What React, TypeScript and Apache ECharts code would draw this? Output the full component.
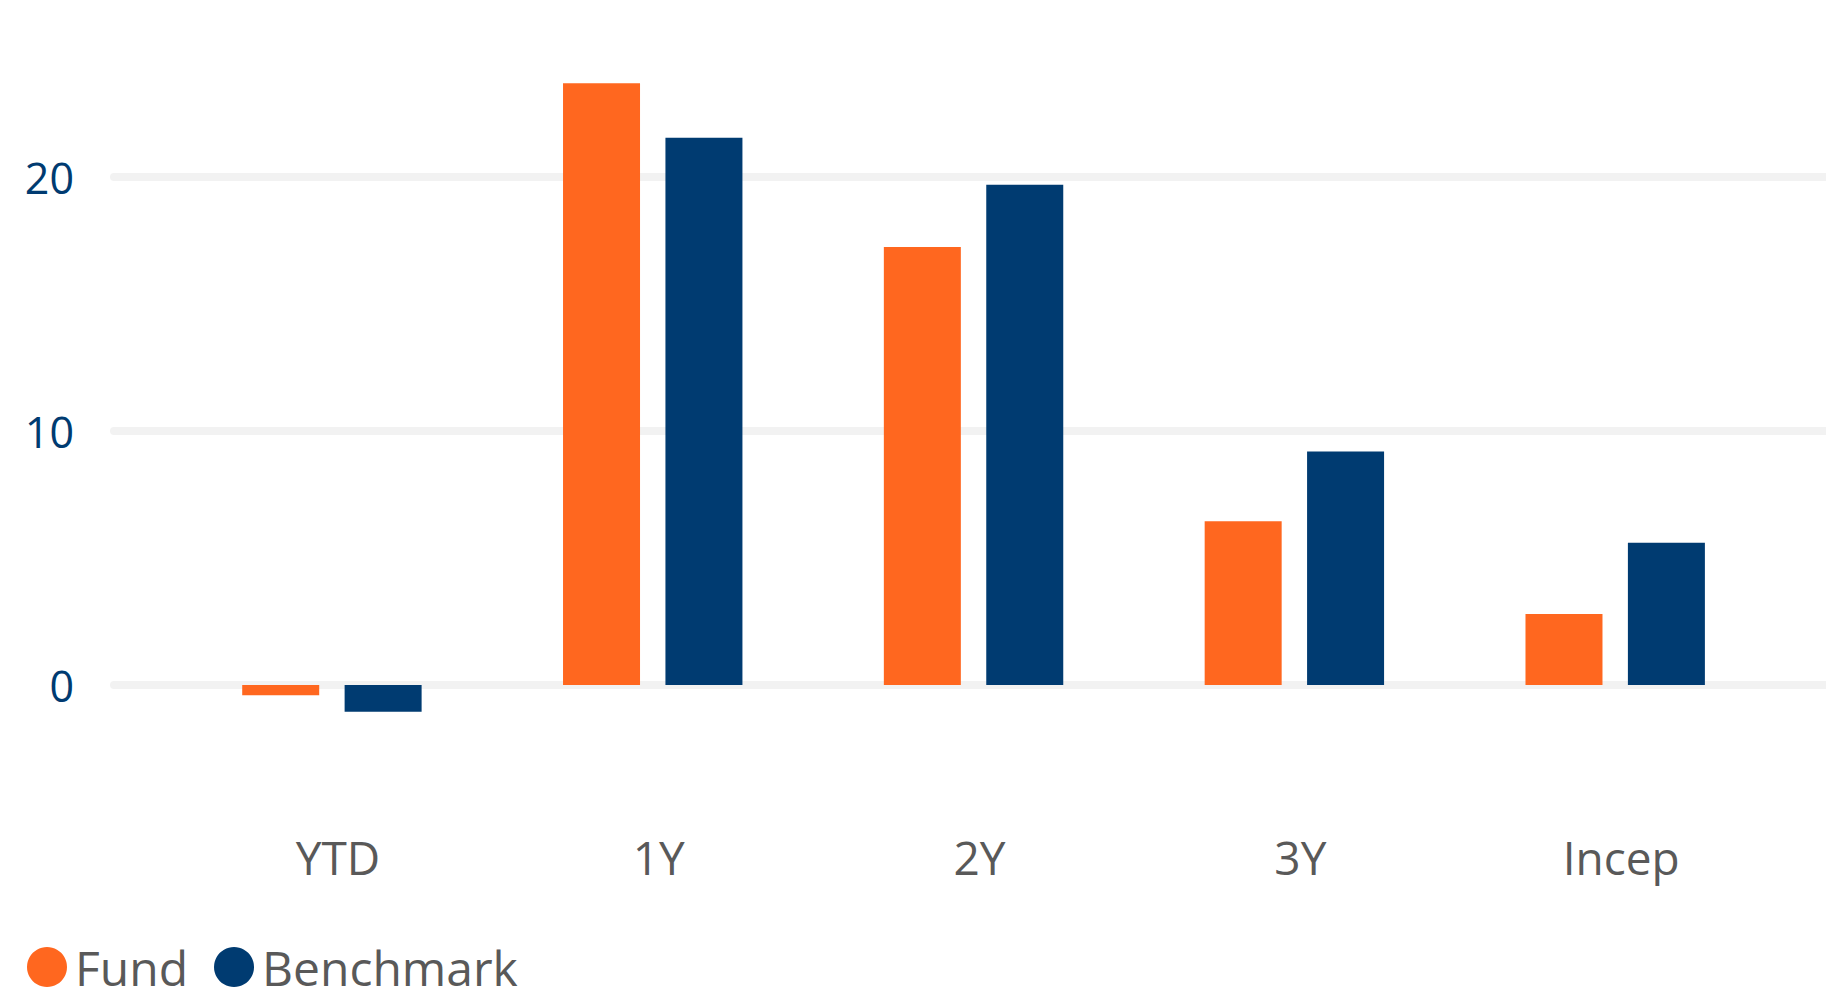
import React, { useEffect, useRef } from "react";
import * as echarts from "echarts";

const categories = ["YTD", "1Y", "2Y", "3Y", "Incep"];
const fundValues = [-0.4, 23.7, 17.25, 6.45, 2.8];
const benchmarkValues = [-1.05, 21.55, 19.7, 9.2, 5.6];
const yTicks = [0, 10, 20];

const ORANGE = "#FF671F";
const NAVY = "#003B71";
const FONT = "'Segoe UI', 'Open Sans', 'Noto Sans', sans-serif";

export default function App() {
  const ref = useRef<HTMLDivElement>(null);
  useEffect(() => {
    if (!ref.current) return;
    const chart = echarts.init(ref.current, null, { renderer: "svg" });
    // pixel mapping: value 0 at y=685, 10 units = 253.9 px
    const pxPer = 25.39;
    const zeroY = 685;
    const maxV = 25;
    const minV = -2;
    chart.setOption({
      animation: false,
      backgroundColor: "#ffffff",
      legend: {
        left: 22,
        top: 938,
        icon: "circle",
        itemWidth: 40,
        itemHeight: 40,
        itemGap: 26,
        textStyle: {
          fontSize: 48,
          lineHeight: 48,
          color: "#595959",
          fontFamily: FONT,
          padding: [0, 0, 0, 3],
        },
        data: ["Fund", "Benchmark"],
      },
      grid: [
        {
          left: 114,
          right: 0,
          top: zeroY - yTicks[yTicks.length - 1] * pxPer,
          height: yTicks[yTicks.length - 1] * pxPer,
          containLabel: false,
        },
        {
          left: 171.5,
          right: 50.4,
          top: zeroY - maxV * pxPer,
          height: (maxV - minV) * pxPer,
          containLabel: false,
        },
      ],
      xAxis: [
        {
          gridIndex: 0,
          type: "category",
          data: categories,
          show: false,
        },
        {
          gridIndex: 1,
          type: "category",
          data: categories,
          axisLine: { show: false },
          axisTick: { show: false },
          axisLabel: {
            fontSize: 46,
            color: "#595959",
            fontFamily: FONT,
            margin: 98,
            padding: [0, 0, 0, 12],
          },
        },
      ],
      yAxis: [
        {
          gridIndex: 0,
          type: "value",
          min: 0,
          max: 20,
          interval: 10,
          axisLine: { show: false },
          axisTick: { show: false },
          axisLabel: {
            fontSize: 43,
            color: NAVY,
            fontFamily: FONT,
            margin: 40,
          },
          splitLine: {
            show: true,
            lineStyle: { color: "#f2f2f2", width: 8, cap: "round" },
          },
        },
        {
          gridIndex: 1,
          type: "value",
          min: minV,
          max: maxV,
          show: false,
          splitLine: { show: false },
        },
      ],
      series: [
        {
          name: "Fund",
          type: "bar",
          xAxisIndex: 1,
          yAxisIndex: 1,
          data: fundValues,
          barWidth: 77,
          barGap: "33%",
          itemStyle: { color: ORANGE },
        },
        {
          name: "Benchmark",
          type: "bar",
          xAxisIndex: 1,
          yAxisIndex: 1,
          data: benchmarkValues,
          barWidth: 77,
          barGap: "33%",
          itemStyle: { color: NAVY },
        },
      ],
    });
    return () => chart.dispose();
  }, []);
  return (
    <div
      ref={ref}
      style={{ position: "fixed", left: 0, top: 0, width: 1826, height: 1004, background: "#fff" }}
    />
  );
}
